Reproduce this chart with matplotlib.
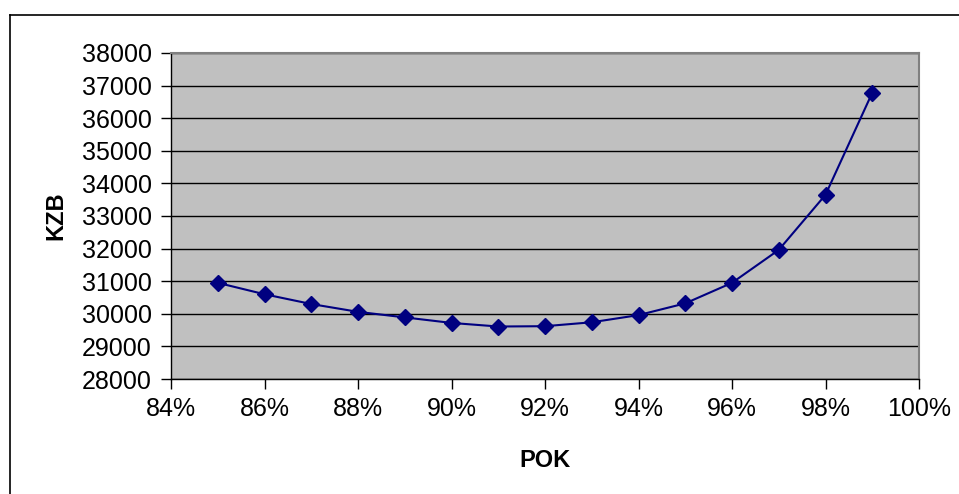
import matplotlib.pyplot as plt
from matplotlib.lines import Line2D
from matplotlib.ticker import FuncFormatter, MultipleLocator

plt.rcParams["font.family"] = ["Liberation Sans", "DejaVu Sans"]

# POK (share, %) against KZB
pok = [85, 86, 87, 88, 89, 90, 91, 92, 93, 94, 95, 96, 97, 98, 99]
kzb = [30950, 30600, 30300, 30060, 29890, 29720, 29610, 29620, 29740,
       29960, 30320, 30950, 31960, 33650, 36780]

fig = plt.figure(figsize=(9.59, 4.94), dpi=100)
ax = fig.add_axes([171 / 959, 1 - 379 / 494, (919 - 171) / 959, (379 - 53) / 494])

ax.set_facecolor("#c0c0c0")
ax.plot(pok, kzb, color="#000080", linewidth=1.5, marker="D",
        markersize=8.5, markerfacecolor="#000080", markeredgecolor="#000080",
        zorder=3)

ax.set_xlim(84, 100)
ax.set_ylim(28000, 38000)
ax.xaxis.set_major_locator(MultipleLocator(2))
ax.yaxis.set_major_locator(MultipleLocator(1000))
ax.xaxis.set_major_formatter(FuncFormatter(lambda v, p: f"{v:.0f}%"))
ax.yaxis.set_major_formatter(FuncFormatter(lambda v, p: f"{v:.0f}"))
ax.grid(axis="y", color="black", linewidth=1)
ax.set_axisbelow(True)

ax.tick_params(labelsize=18, length=7, width=1, color="black")
ax.tick_params(axis="y", pad=7)
ax.tick_params(axis="x", pad=6)
for side in ("left", "bottom"):
    ax.spines[side].set_color("black")
    ax.spines[side].set_linewidth(1)
for side in ("top", "right"):
    ax.spines[side].set_color("#808080")
    ax.spines[side].set_linewidth(1.5)

ax.set_xlabel("POK", fontsize=17, fontweight="bold", labelpad=20)
ax.set_ylabel("KZB", fontsize=17, fontweight="bold", labelpad=10)

# outer chart frame (top and left edges)
fig.add_artist(Line2D([10 / 959, 1], [1 - 15 / 494] * 2, color="black",
                      linewidth=1.2, transform=fig.transFigure))
fig.add_artist(Line2D([10 / 959] * 2, [0, 1 - 15 / 494], color="black",
                      linewidth=1.2, transform=fig.transFigure))

fig.savefig("out.png", dpi=100, facecolor="white")
